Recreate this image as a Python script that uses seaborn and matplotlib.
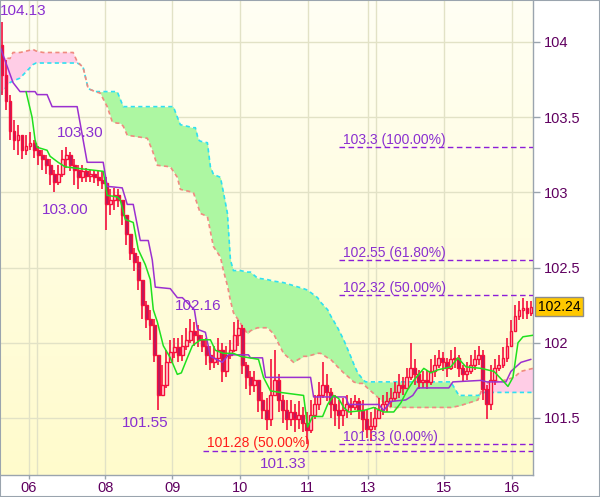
import numpy as np
import matplotlib
matplotlib.use("Agg")
import matplotlib.pyplot as plt
import seaborn as sns
from matplotlib.colors import LinearSegmentedColormap
from matplotlib.patches import Rectangle

# hourly candles, bar i drawn at x = i + 0.5 (open = previous close)
first_open = 103.98
closes = [103.78, 103.61, 103.41, 103.35, 103.38, 103.28, 103.31, 103.33, 103.28, 103.25,
          103.22, 103.18, 103.12, 103.07, 103.12, 103.22, 103.25, 103.18, 103.15, 103.10,
          103.14, 103.11, 103.12, 103.10, 103.08, 103.06, 102.92, 102.95, 102.98, 102.95,
          102.85, 102.72, 102.60, 102.54, 102.42, 102.25, 102.16, 102.12, 101.92, 101.65,
          101.72, 101.87, 101.94, 101.97, 101.92, 101.98, 102.02, 102.08, 102.05, 102.02,
          101.98, 101.92, 101.87, 101.90, 101.95, 101.81, 101.92, 101.95, 102.05, 102.10,
          101.85, 101.77, 101.72, 101.75, 101.62, 101.55, 101.49, 101.65, 101.75, 101.62,
          101.55, 101.49, 101.54, 101.49, 101.52, 101.47, 101.42, 101.52, 101.59, 101.65,
          101.72, 101.67, 101.59, 101.55, 101.52, 101.55, 101.59, 101.57, 101.61, 101.55,
          101.49, 101.43, 101.45, 101.50, 101.55, 101.59, 101.61, 101.63, 101.67, 101.72,
          101.70, 101.77, 101.83, 101.79, 101.74, 101.75, 101.74, 101.81, 101.85, 101.90,
          101.87, 101.83, 101.89, 101.90, 101.83, 101.79, 101.81, 101.85, 101.89, 101.92,
          101.69, 101.59, 101.75, 101.83, 101.85, 101.90, 101.98, 102.08, 102.18, 102.22,
          102.23, 102.20, 102.24]
highs = [104.13, 103.88, 103.65, 103.48, 103.45, 103.38, 103.38, 103.40, 103.35, 103.31,
         103.28, 103.25, 103.22, 103.15, 103.18, 103.28, 103.30, 103.27, 103.22, 103.18,
         103.18, 103.16, 103.15, 103.15, 103.14, 103.14, 103.10, 103.02, 103.03, 103.02,
         102.95, 102.85, 102.72, 102.63, 102.58, 102.42, 102.28, 102.22, 102.16, 101.92,
         101.85, 101.95, 102.02, 102.03, 102.03, 102.05, 102.10, 102.16, 102.14, 102.12,
         102.05, 102.03, 101.98, 101.98, 102.03, 102.00, 101.98, 102.02, 102.14, 102.15,
         102.12, 101.87, 101.81, 101.81, 101.75, 101.67, 101.63, 101.89, 101.95, 101.79,
         101.65, 101.62, 101.62, 101.59, 101.61, 101.57, 101.54, 101.62, 101.65, 101.74,
         101.87, 101.79, 101.70, 101.65, 101.62, 101.63, 101.65, 101.63, 101.65, 101.63,
         101.62, 101.55, 101.54, 101.57, 101.63, 101.65, 101.67, 101.70, 101.74, 101.79,
         101.77, 101.83, 102.00, 101.89, 101.82, 101.81, 101.82, 101.89, 101.92, 101.95,
         101.94, 101.90, 101.95, 101.97, 101.92, 101.85, 101.87, 101.92, 101.95, 101.98,
         101.95, 101.72, 101.85, 101.89, 101.92, 101.97, 102.03, 102.15, 102.25, 102.28,
         102.30, 102.28, 102.28]
lows = [103.65, 103.55, 103.35, 103.28, 103.25, 103.22, 103.25, 103.28, 103.23, 103.18,
        103.15, 103.12, 103.05, 103.00, 103.05, 103.10, 103.16, 103.14, 103.05, 103.02,
        103.07, 103.07, 103.07, 103.06, 103.04, 103.02, 102.75, 102.85, 102.88, 102.90,
        102.78, 102.65, 102.55, 102.48, 102.35, 102.16, 102.10, 102.02, 101.87, 101.55,
        101.65, 101.70, 101.87, 101.90, 101.87, 101.88, 101.95, 102.00, 101.98, 101.97,
        101.94, 101.85, 101.82, 101.83, 101.85, 101.74, 101.77, 101.89, 101.94, 101.98,
        101.79, 101.69, 101.65, 101.67, 101.54, 101.49, 101.42, 101.45, 101.65, 101.54,
        101.47, 101.42, 101.45, 101.41, 101.43, 101.41, 101.33, 101.40, 101.49, 101.55,
        101.63, 101.61, 101.50, 101.45, 101.43, 101.45, 101.50, 101.52, 101.55, 101.49,
        101.41, 101.37, 101.35, 101.42, 101.49, 101.52, 101.54, 101.57, 101.61, 101.63,
        101.65, 101.69, 101.75, 101.72, 101.69, 101.70, 101.69, 101.72, 101.77, 101.83,
        101.81, 101.77, 101.82, 101.83, 101.77, 101.74, 101.75, 101.79, 101.82, 101.85,
        101.62, 101.49, 101.55, 101.72, 101.81, 101.83, 101.87, 101.98, 102.08, 102.15,
        102.16, 102.16, 102.18]

# ichimoku lines
tenkan_x = [6.5, 8, 8.75, 9.25, 11.75, 12.5, 14.5, 16.25, 19.25, 22.5,
            25.75, 26.75, 29.25, 30, 31.25, 33.25, 34.5, 36.25, 37.5, 38.25,
            39.25, 40.75, 42.5, 44.25, 45.25, 46.75, 48, 50, 52.5, 53.75,
            55.75, 58.25, 60, 64.5, 65.75, 67.5, 70, 75.75, 76.75, 78,
            80.5, 81.75, 83.25, 84.5, 85.75, 87, 90.75, 93.25, 95.75, 98.25,
            100, 101.75, 103.25, 105.75, 107.5, 109.25, 112.5, 114.25, 116.25, 120,
            123.25, 125.75, 126.75, 128, 129.25, 130.5, 133]
tenkan = [103.67, 103.50, 103.35, 103.30, 103.28, 103.24, 103.20, 103.17, 103.16, 103.15,
          103.14, 102.98, 102.97, 102.95, 102.82, 102.80, 102.62, 102.52, 102.42, 102.22,
          102.14, 101.98, 101.90, 101.79, 101.80, 101.90, 101.98, 102.02, 102.02, 101.95,
          101.93, 101.93, 101.91, 101.89, 101.77, 101.68, 101.67, 101.65, 101.44, 101.51,
          101.51, 101.59, 101.65, 101.63, 101.57, 101.54, 101.55, 101.57, 101.54, 101.54,
          101.60, 101.69, 101.75, 101.83, 101.80, 101.82, 101.84, 101.90, 101.84, 101.83,
          101.81, 101.74, 101.71, 101.77, 102.00, 102.04, 102.05]
kijun_x = [0, 3.25, 5, 8.75, 9.25, 11.75, 13, 19.25, 21.75, 25.75,
           26.75, 30.5, 31.75, 33.25, 35, 37, 38, 38.75, 42.5, 44.25,
           45.5, 48.5, 49.25, 51.25, 52.5, 55.5, 57, 62, 62.5, 65.5,
           66.25, 77.5, 78.25, 86.25, 87, 94.5, 95.75, 97.5, 101.25, 103,
           104.25, 112, 113, 120, 121.5, 126.25, 127.5, 130, 132.5]
kijun = [103.97, 103.73, 103.67, 103.67, 103.65, 103.65, 103.57, 103.57, 103.20, 103.20,
         103.04, 103.03, 102.92, 102.92, 102.68, 102.68, 102.55, 102.37, 102.36, 102.30,
         102.30, 102.22, 102.09, 102.07, 101.91, 101.87, 101.92, 101.92, 101.90, 101.90,
         101.77, 101.77, 101.64, 101.64, 101.59, 101.59, 101.55, 101.61, 101.62, 101.65,
         101.70, 101.70, 101.74, 101.75, 101.74, 101.74, 101.81, 101.87, 101.89]

cloud_x = [0, 2.5, 3.25, 5, 8.25, 9, 10.75, 18.25, 19.25, 20,
           20.75, 22, 23.75, 25, 26.75, 28, 29.25, 30, 30.75, 31.75,
           36.75, 38, 39.25, 42.5, 43.25, 44.25, 45, 48.25, 48.75, 49.5,
           50, 51.75, 52.5, 53.25, 55, 55.75, 56.75, 57.5, 58.25, 60,
           61.75, 62.5, 64.25, 66.75, 68.25, 70.75, 73.25, 75.75, 76.75, 79.25,
           80, 81.75, 82.5, 84.25, 85, 85.75, 87.5, 88.25, 89.25, 90.75,
           91.25, 95, 97.5, 112.5, 114.5, 115.75, 119.25, 120.25, 120.75, 125.75,
           128.25, 130, 133]
span_a = [103.65, 103.73, 103.74, 103.76, 103.85, 103.86, 103.86, 103.86, 103.86, 103.85,
          103.83, 103.69, 103.67, 103.67, 103.67, 103.67, 103.67, 103.62, 103.57, 103.57,
          103.57, 103.57, 103.57, 103.57, 103.57, 103.50, 103.45, 103.43, 103.43, 103.35,
          103.34, 103.33, 103.17, 103.12, 103.10, 103.00, 102.86, 102.55, 102.48, 102.48,
          102.47, 102.47, 102.43, 102.42, 102.41, 102.40, 102.38, 102.36, 102.35, 102.30,
          102.27, 102.22, 102.18, 102.10, 102.06, 102.02, 101.91, 101.86, 101.80, 101.75,
          101.74, 101.74, 101.74, 101.74, 101.65, 101.65, 101.65, 101.66, 101.67, 101.67,
          101.67, 101.67, 101.67]
span_b = [103.90, 103.89, 103.93, 103.93, 103.95, 103.94, 103.93, 103.93, 103.87, 103.85,
          103.83, 103.69, 103.67, 103.66, 103.57, 103.47, 103.46, 103.46, 103.44, 103.38,
          103.36, 103.28, 103.18, 103.17, 103.14, 103.10, 103.02, 103.00, 102.96, 102.90,
          102.86, 102.84, 102.74, 102.64, 102.57, 102.48, 102.38, 102.28, 102.20, 102.13,
          102.06, 102.08, 102.10, 102.10, 102.06, 101.93, 101.87, 101.91, 101.91, 101.93,
          101.93, 101.90, 101.89, 101.84, 101.82, 101.80, 101.76, 101.74, 101.73, 101.73,
          101.71, 101.62, 101.57, 101.57, 101.58, 101.59, 101.62, 101.69, 101.73, 101.75,
          101.77, 101.81, 101.83]

# axis labels
day_pos = [7.25, 26.25, 43, 60, 76.75, 91.75, 110.75, 127.75]
day_labels = ["06", "08", "09", "10", "11", "13", "15", "16"]
week_grid = [9.25, 93.75]
price_ticks = [101.5, 102, 102.5, 103, 103.5, 104]
price_labels = ["101.5", "102", "102.5", "103", "103.5", "104"]

# fibonacci levels
fib_levels = [103.3, 102.55, 102.32, 101.33]
fib_labels = ["103.3 (100.00%)", "102.55 (61.80%)", "102.32 (50.00%)", "101.33 (0.00%)"]
fib2_level = 101.28
fib2_label = "101.28 (50.00%)"

# zigzag swing points
swing_bars = [0, 16, 13, 47, 39, 76]
swing_vals = [104.13, 103.30, 103.00, 102.16, 101.55, 101.33]
swing_offsets = [(21, 11), (14, 14), (11, -18), (8, 13), (-13, -13), (-23, -20)]

RED = "#f5103c"
BEAR = "#b01c62"
TXT = "#8a2fd0"
AXTXT = "#600060"
SPINE = "#9aa4ae"

sns.set_theme(style="white")
plt.rcParams["font.family"] = ["Liberation Sans", "DejaVu Sans"]

fig = plt.figure(figsize=(6.0, 4.97), dpi=100)
ax = fig.add_axes([0, 22 / 497, 533 / 600, 475 / 497])
ymin, ymax = 101.121, 104.279

bg = LinearSegmentedColormap.from_list("bg", ["#fffbcc", "#fffff4"])
ax.imshow(np.linspace(0, 1, 256).reshape(-1, 1), extent=[0, 133, ymin, ymax],
          origin="lower", aspect="auto", cmap=bg, zorder=0)

# grid
for p in price_ticks:
    ax.axhline(p, color="#e2e2c6", lw=1, zorder=0.5)
for p in day_pos + week_grid:
    ax.axvline(p, color="#e2e2c6", lw=1, zorder=0.5)

# cloud
a = np.array(span_a)
b = np.array(span_b)
ax.fill_between(cloud_x, a, b, where=a >= b, interpolate=True, color="#adf7a2", lw=0, zorder=1)
ax.fill_between(cloud_x, a, b, where=a < b, interpolate=True, color="#ffcde6", lw=0, zorder=1)
sns.lineplot(x=cloud_x, y=span_a, ax=ax, color="#2fe0f0", lw=1.2, linestyle=(0, (2.5, 2)), zorder=2)
sns.lineplot(x=cloud_x, y=span_b, ax=ax, color="#f08a80", lw=1.2, linestyle=(0, (2.5, 2)), zorder=2)

# candles
x = np.arange(len(closes)) + 0.5
c = np.array(closes)
o = np.array([first_open] + closes[:-1])
ax.vlines(x, lows, highs, color=RED, lw=1.2, zorder=3)
up = c >= o
ax.bar(x[up], (c - o)[up], bottom=o[up], width=0.72, facecolor="#ffd8d8",
       edgecolor=RED, lw=1.0, zorder=4)
ax.bar(x[~up], (o - c)[~up], bottom=c[~up], width=0.72, facecolor=BEAR,
       edgecolor=RED, lw=1.0, zorder=4)

# ichimoku lines
sns.lineplot(x=kijun_x, y=kijun, ax=ax, color="#9b30d0", lw=1.1, zorder=5)
sns.lineplot(x=tenkan_x, y=tenkan, ax=ax, color="#1fe01f", lw=1.1, zorder=5)

# fibonacci
for lvl, lab in zip(fib_levels, fib_labels):
    ax.hlines(lvl, 84.5, 133, colors="#8c1ed8", linestyles=(0, (4, 2.5)), lw=1, zorder=6)
    ax.annotate(lab, xy=(85.5, lvl), xytext=(0, 7), textcoords="offset pixels",
                ha="left", va="center", fontsize=10, color=TXT, zorder=7)
ax.hlines(fib2_level, 50.75, 133, colors="#8c1ed8", linestyles=(0, (4, 2.5)), lw=1, zorder=6)
ax.annotate(fib2_label, xy=(51.75, fib2_level), xytext=(0, 8), textcoords="offset pixels",
            ha="left", va="center", fontsize=10, color="#ff1a1a", zorder=7)

# swing labels
for bi, val, off in zip(swing_bars, swing_vals, swing_offsets):
    ax.annotate(f"{val:.2f}", xy=(bi + 0.5, val), xytext=off, textcoords="offset pixels",
                ha="center", va="center", fontsize=11, color=TXT, zorder=7)

# last price box
ax.annotate(f"{closes[-1]:.2f}", xy=(1, closes[-1]), xycoords=("axes fraction", "data"),
            xytext=(5, 0), textcoords="offset pixels", ha="left", va="center",
            fontsize=10, color="black", annotation_clip=False,
            bbox=dict(boxstyle="square,pad=0.2", fc="#ffc800", ec="#8c8c8c", lw=1))

ax.set_xlim(0, 133)
ax.set_ylim(ymin, ymax)
ax.yaxis.tick_right()
ax.set_yticks(price_ticks, price_labels)
ax.set_xticks(day_pos, day_labels)
ax.tick_params(axis="y", right=True, length=5, width=1, color=SPINE, pad=3,
               labelsize=10.5, labelcolor=AXTXT)
ax.tick_params(axis="x", bottom=True, length=3, width=1, color=SPINE, pad=1.5,
               labelsize=10.5, labelcolor=AXTXT)
ax.set_xlabel("")
ax.set_ylabel("")
for s in ["left", "top"]:
    ax.spines[s].set_visible(False)
for s in ["right", "bottom"]:
    ax.spines[s].set_color(SPINE)
    ax.spines[s].set_linewidth(1)

fig.patches.append(Rectangle((0, 0), 1, 1, transform=fig.transFigure, fill=False,
                             ec=SPINE, lw=1.5))

fig.savefig("out.png", dpi=100)
